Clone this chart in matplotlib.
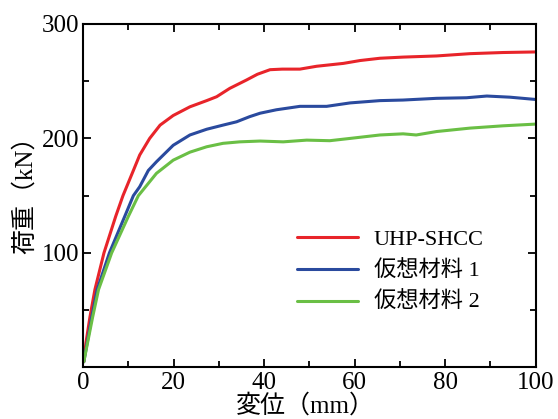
"""Load-displacement curves: UHP-SHCC vs two hypothetical materials."""

import matplotlib
matplotlib.use("Agg")
import matplotlib.pyplot as plt
from matplotlib.ticker import MultipleLocator, FuncFormatter

FONTS = ["Liberation Serif", "Noto Sans CJK JP", "DejaVu Sans"]
plt.rcParams["font.family"] = FONTS

# displacement (mm) / load (kN)
red_x = [0.15, 0.6, 1.5, 2.6, 4.6, 7.2, 8.8, 11.1, 12.5, 14.7, 17.0, 19.9, 23.6, 27.3,
         29.5, 32.4, 36.1, 38.5, 41.3, 44.0, 47.9, 51.6, 57.5, 61.2, 65.6, 70.7,
         78.1, 85.5, 92.8, 100.0]
red_y = [5, 21, 44, 68, 100, 132, 150, 172, 185.5, 200, 211.6, 220, 227.6, 233,
         236.4, 243.7, 251, 256, 260, 260.5, 260.5, 263, 265.5, 268, 270, 271,
         272, 274, 275, 275.5]

blue_x = [0.15, 1.9, 3.1, 5.8, 9.2, 11.1, 12.5, 14.4, 16.2, 19.9, 23.6, 27.3, 30.9,
          33.9, 36.8, 39.1, 42.7, 47.9, 53.8, 59.0, 65.6, 70.7, 78.1, 84.7, 89.2,
          94.3, 100.0]
blue_y = [5, 44, 68, 100, 132, 150, 157.8, 172, 179.6, 194, 203, 208, 211.6,
          214.5, 219, 222, 225, 228, 228, 231, 233, 233.5, 235, 235.5, 237,
          236, 234]

green_x = [0.15, 2.1, 3.4, 6.3, 10.0, 12.2, 16.2, 19.9, 23.6, 27.3, 30.9, 34.6, 39.1,
           44.2, 49.4, 54.5, 59.0, 65.6, 70.7, 73.6, 78.1, 85.5, 92.8, 100.0]
green_y = [5, 44, 68, 100, 132, 150, 169.5, 181, 188, 192.7, 195.7, 197, 197.7,
           197, 198.5, 198, 200, 203, 204, 203, 206, 209, 211, 212.5]

labels = ["UHP-SHCC", "仮想材料 1", "仮想材料 2"]
colors = ["#e8242a", "#2a4a9e", "#6abf45"]


def main() -> None:
    fig = plt.figure(figsize=(5.58, 4.19), dpi=100)
    ax = fig.add_axes([0.149, 0.123, 0.811, 0.820])

    for xs, ys, lab, col in zip([red_x, blue_x, green_x], [red_y, blue_y, green_y],
                                labels, colors):
        ax.plot(xs, ys, color=col, lw=2.2, label=lab, solid_capstyle="round",
                solid_joinstyle="round")

    ax.set_xlim(0, 100)
    ax.set_ylim(0, 300)
    ax.xaxis.set_major_locator(MultipleLocator(20))
    ax.xaxis.set_minor_locator(MultipleLocator(10))
    ax.yaxis.set_major_locator(MultipleLocator(100))
    ax.yaxis.set_minor_locator(MultipleLocator(50))
    # the y axis leaves its 0 out, the x axis one serves both
    ax.yaxis.set_major_formatter(FuncFormatter(lambda v, p: "" if v == 0 else f"{v:.0f}"))
    ax.tick_params(which="both", direction="in", top=True, right=True,
                   width=1.3, labelsize=18, pad=3)
    ax.tick_params(which="major", length=6)
    ax.tick_params(which="minor", length=4)
    for sp in ax.spines.values():
        sp.set_linewidth(1.5)

    ax.set_xlabel("変位（mm）", fontsize=18, va="center")
    ax.set_ylabel("荷重（kN）", fontsize=18, va="center")
    ax.xaxis.set_label_coords(0.49, -0.11)
    ax.yaxis.set_label_coords(-0.129, 0.52)

    ax.legend(loc="upper left", bbox_to_anchor=(0.472, 0.402), frameon=False,
              fontsize=16, handlelength=2.75, handletextpad=0.72,
              labelspacing=0.48, borderpad=0, borderaxespad=0)

    fig.savefig("out.png", dpi=100)
    plt.close(fig)


if __name__ == "__main__":
    main()
